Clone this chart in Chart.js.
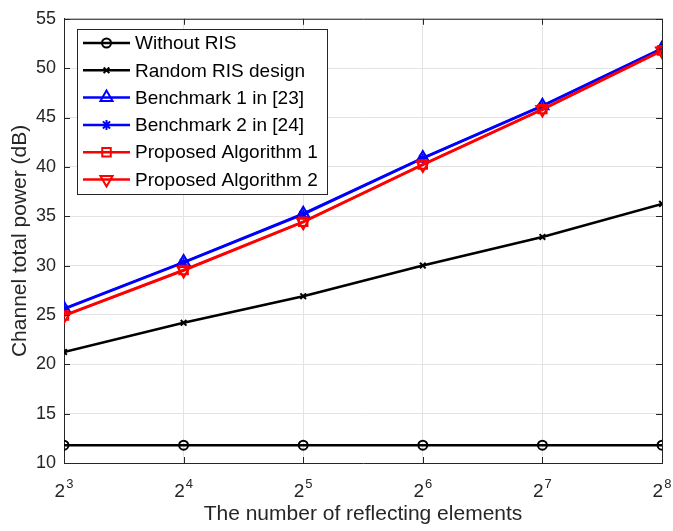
<!DOCTYPE html>
<html>
<head>
<meta charset="utf-8">
<script src="https://cdn.jsdelivr.net/npm/chart.js@4.4.0/dist/chart.umd.min.js"></script>
<style>
  html, body { margin: 0; padding: 0; background: #fff; }
</style>
</head>
<body>
<canvas id="chart" width="673" height="531"></canvas>
<script>
// x = log2(number of reflecting elements)
const exponents = [3, 4, 5, 6, 7, 8];
const withoutRis = [11.8, 11.8, 11.8, 11.8, 11.8, 11.8];
const randomRis = [21.25, 24.2, 26.9, 30.0, 32.9, 36.25];
const benchmark1 = [25.65, 30.35, 35.25, 40.9, 46.2, 52.0];
const benchmark2 = [25.6, 30.3, 35.2, 40.85, 46.15, 51.95];
const proposed1 = [24.95, 29.55, 34.45, 40.25, 45.85, 51.8];
const proposed2 = [24.9, 29.5, 34.4, 40.2, 45.8, 51.75];
const yTicks = [10, 15, 20, 25, 30, 35, 40, 45, 50, 55];

const FONT = "'Liberation Sans', Arial, sans-serif";
const AXIS = '#262626';

function series(label, values, color, style, radius, extra) {
    return Object.assign({
        label: label,
        data: exponents.map((e, i) => ({ x: e, y: values[i] })),
        borderColor: color,
        backgroundColor: color,
        borderWidth: 2.5,
        pointStyle: style,
        pointRadius: radius,
        pointBorderWidth: 2,
        pointBorderColor: color,
        pointBackgroundColor: 'rgba(0,0,0,0)',
        tension: 0
    }, extra || {});
}

const datasets = [
    series('Without RIS', withoutRis, '#000000', 'circle', 4.5, { order: 6 }),
    series('Random RIS design', randomRis, '#000000', 'crossRot', 4, { order: 5 }),
    series('Benchmark 1 in [23]', benchmark1, '#0000ff', 'triangle', 7, { order: 4 }),
    series('Benchmark 2 in [24]', benchmark2, '#0000ff', 'star', 5, { order: 3 }),
    series('Proposed Algorithm 1', proposed1, '#ff0000', 'rect', 6, { order: 2 }),
    series('Proposed Algorithm 2', proposed2, '#ff0000', 'triangle', 7, { order: 1, pointRotation: 180 })
];

// box, inward ticks, superscript x labels and the legend
const matlabLook = {
    id: 'matlabLook',
    afterDraw(chart) {
        const ctx = chart.ctx;
        const a = chart.chartArea;
        const xs = chart.scales.x, ys = chart.scales.y;
        ctx.save();
        ctx.strokeStyle = AXIS;
        ctx.lineWidth = 1;
        ctx.beginPath();
        ctx.moveTo(a.left + 0.5, a.top + 0.5);
        ctx.lineTo(a.right + 0.5, a.top + 0.5);
        ctx.lineTo(a.right + 0.5, a.bottom + 0.5);
        const t = 6;
        yTicks.forEach(v => {
            const y = Math.round(ys.getPixelForValue(v)) + 0.5;
            ctx.moveTo(a.left, y); ctx.lineTo(a.left + t, y);
            ctx.moveTo(a.right, y); ctx.lineTo(a.right - t, y);
        });
        exponents.forEach(e => {
            const x = Math.round(xs.getPixelForValue(e)) + 0.5;
            ctx.moveTo(x, a.bottom); ctx.lineTo(x, a.bottom - t);
            ctx.moveTo(x, a.top); ctx.lineTo(x, a.top + t);
        });
        ctx.stroke();

        // x tick labels 2^n
        ctx.fillStyle = AXIS;
        ctx.textBaseline = 'alphabetic';
        exponents.forEach(e => {
            const x = xs.getPixelForValue(e);
            ctx.font = '19px ' + FONT;
            const wb = ctx.measureText('2').width;
            ctx.font = '13px ' + FONT;
            const we = ctx.measureText(String(e)).width;
            const left = x - (wb + 1 + we) / 2;
            ctx.font = '19px ' + FONT;
            ctx.textAlign = 'left';
            ctx.fillText('2', left, 497);
            ctx.font = '13px ' + FONT;
            ctx.fillText(String(e), left + wb + 1, 488);
        });

        // legend
        const lx = 77.5, ly = 29.5, lw = 250, lh = 165;
        ctx.fillStyle = '#ffffff';
        ctx.fillRect(lx, ly, lw, lh);
        ctx.strokeRect(lx, ly, lw, lh);
        ctx.font = '19px ' + FONT;
        ctx.textAlign = 'left';
        ctx.textBaseline = 'middle';
        datasets.forEach((ds, i) => {
            const y = 43 + i * 27.3;
            ctx.strokeStyle = ds.borderColor;
            ctx.lineWidth = ds.borderWidth;
            ctx.beginPath();
            ctx.moveTo(83, y); ctx.lineTo(130, y);
            ctx.stroke();
            ctx.fillStyle = 'rgba(0,0,0,0)';
            ctx.lineWidth = ds.pointBorderWidth;
            Chart.helpers.drawPoint(ctx, {
                pointStyle: ds.pointStyle,
                radius: ds.pointRadius,
                rotation: ds.pointRotation || 0,
                borderWidth: ds.pointBorderWidth
            }, 106.5, y);
            ctx.fillStyle = '#000000';
            ctx.fillText(ds.label, 135, y + 1);
        });
        ctx.restore();
    }
};

new Chart(document.getElementById('chart'), {
    type: 'line',
    data: { datasets: datasets },
    options: {
        responsive: false,
        devicePixelRatio: 1,
        animation: false,
        layout: { padding: { top: 15, right: 11, left: 0, bottom: 0 } },
        plugins: { legend: { display: false }, tooltip: { enabled: false } },
        scales: {
            x: {
                type: 'linear',
                min: 3,
                max: 8,
                afterFit: s => { s.height = 68; },
                ticks: { stepSize: 1, display: false },
                grid: { color: '#e3e3e3', drawTicks: false },
                border: { color: AXIS, width: 1 },
                title: {
                    display: true,
                    text: 'The number of reflecting elements',
                    color: AXIS,
                    font: { family: FONT, size: 21 },
                    padding: { top: 4, bottom: 4 }
                }
            },
            y: {
                min: 10,
                max: 55,
                afterFit: s => { s.width = 64; },
                afterBuildTicks: s => { s.ticks = yTicks.map(v => ({ value: v })); },
                ticks: { color: AXIS, padding: 8, font: { family: FONT, size: 18 } },
                grid: { color: '#e3e3e3', drawTicks: false },
                border: { color: AXIS, width: 1 },
                title: {
                    display: true,
                    text: 'Channel total power (dB)',
                    color: AXIS,
                    font: { family: FONT, size: 21 },
                    padding: { top: 8, bottom: 8 }
                }
            }
        }
    },
    plugins: [matlabLook]
});
</script>
</body>
</html>
